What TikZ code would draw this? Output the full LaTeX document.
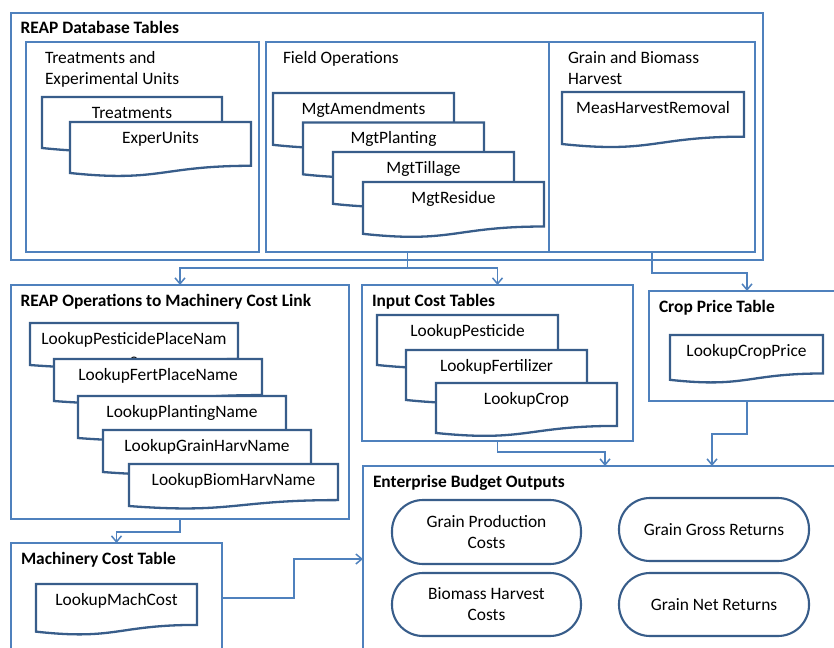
\documentclass[tikz,border=0pt]{standalone}
\usepackage{fontspec}
\setmainfont{Carlito}
\usetikzlibrary{arrows.meta,calc}
\definecolor{boxblue}{RGB}{79,129,189}
\definecolor{docblue}{RGB}{56,93,138}
\tikzset{
  every node/.style={font=\fontsize{17.4}{21}\selectfont, inner sep=0pt, outer sep=0pt},
  container/.style={draw=boxblue, line width=1.2pt, rectangle, anchor=north west},
  titletext/.style={anchor=base west, font=\fontsize{17.4}{21}\selectfont\bfseries},
  labeltext/.style={anchor=base west},
  docline/.style={draw=docblue, line width=2.3pt, fill=white, line join=miter},
  doctext/.style={anchor=base},
  link/.style={draw=boxblue, line width=1.5pt, -{Straight Barb[length=6pt,width=10pt]}},
  oval/.style={draw=docblue, line width=2.1pt, rounded corners=31pt, align=center, fill=white},
}
% #1 name, #2 left x, #3 top y, #4 width, #5 height, #6 text
\newcommand\mydoc[6]{%
  \path[docline] (#2,#3) -- ({#2+#4},#3) -- ({#2+#4},{#3+0.802*#5})
    .. controls ({#2+0.5*#4},{#3+0.802*#5}) and ({#2+0.5*#4},{#3+1.108*#5}) .. (#2,{#3+0.934*#5}) -- cycle;
  \node[doctext] (#1) at ({#2+0.5*#4},{#3+21.5}) {#6};}
\begin{document}
\begin{tikzpicture}[x=1pt,y=-1pt]
\useasboundingbox (0,0) rectangle (834,647);
\clip (0,0) rectangle (834,647);

% containers
\node[container, minimum width=752pt, minimum height=247pt] (db) at (11,13) {};
\node[container, minimum width=233pt, minimum height=210pt] (treat) at (26,42) {};
\node[container, minimum width=283pt, minimum height=210pt] (field) at (266,42) {};
\node[container, minimum width=206pt, minimum height=210pt] (grain) at (549,42) {};
\node[container, minimum width=338pt, minimum height=234pt] (ops) at (11,285) {};
\node[container, minimum width=271pt, minimum height=156pt] (input) at (362,285) {};
\node[container, minimum width=196pt, minimum height=110pt] (crop) at (649,291) {};
\node[container, minimum width=484pt, minimum height=186pt] (ent) at (363,466) {};
\node[container, minimum width=211pt, minimum height=110pt] (mach) at (11,543) {};

% titles and labels
\node[titletext] (dbtitle) at (20.5,34) {REAP Database Tables};
\node[labeltext] (treatla) at (45,64) {Treatments and};
\node[labeltext] (treatlb) at (45,85) {Experimental Units};
\node[labeltext] (fieldl) at (283,64) {Field Operations};
\node[labeltext] (grainla) at (568,64) {Grain and Biomass};
\node[labeltext] (grainlb) at (568,85) {Harvest};
\node[titletext] (opstitle) at (20.5,306) {REAP Operations to Machinery Cost Link};
\node[titletext] (inputtitle) at (372,306) {Input Cost Tables};
\node[titletext] (croptitle) at (659,312) {Crop Price Table};
\node[titletext] (enttitle) at (373,487) {Enterprise Budget Outputs};
\node[titletext] (machtitle) at (21,564) {Machinery Cost Table};

% documents
\mydoc{treatments}{42}{97}{180}{54.6}{Treatments}
\mydoc{experunits}{70}{122}{181}{54.6}{ExperUnits}

\mydoc{amend}{273}{93}{181}{55.5}{MgtAmendments}
\mydoc{planting}{303}{122.5}{181}{55.5}{MgtPlanting}
\mydoc{tillage}{333}{152}{181}{55.5}{MgtTillage}
\mydoc{residue}{363}{182}{181}{55.5}{MgtResidue}

\mydoc{meas}{562}{92}{182}{55.7}{MeasHarvestRemoval}

\mydoc{pestplace}{30}{323}{208}{45}{LookupPesticidePlaceNam}
\node[doctext] (pestplacee) at (134,365) {e};
\mydoc{fertplace}{54}{359}{208}{45}{LookupFertPlaceName}
\mydoc{plantname}{78}{396}{208}{45}{LookupPlantingName}
\mydoc{grainharv}{103}{430}{208}{45}{LookupGrainHarvName}
\mydoc{biomharv}{129}{464}{209}{45}{LookupBiomHarvName}

\mydoc{pest}{377}{315}{181}{53.5}{LookupPesticide}
\mydoc{fert}{406}{350}{181}{53.5}{LookupFertilizer}
\mydoc{cropdoc}{436}{383}{181}{53.5}{LookupCrop}

\mydoc{cropprice}{670}{335}{153}{48}{LookupCropPrice}
\mydoc{machcost}{36}{584}{161}{51}{LookupMachCost}

% outputs
\node[oval, minimum width=189pt, minimum height=64pt] (gpc) at (486.5,532) {Grain Production\\Costs};
\node[oval, minimum width=190pt, minimum height=63pt] (ggr) at (714,529.5) {Grain Gross Returns};
\node[oval, minimum width=189pt, minimum height=63pt] (bhc) at (486.5,604.5) {Biomass Harvest\\Costs};
\node[oval, minimum width=190pt, minimum height=63pt] (gnr) at (714,604.5) {Grain Net Returns};

% connectors
\coordinate (split) at ($(field.south)+(0,16)$);
\coordinate (entin) at ($(ent.north west)+(349,0)$);
\draw[link] (field.south) -- (split) -| (ops.north);
\draw[link] (split) -| (input.north);
\draw[link] (grain.south) -- ++(0,21) -| (crop.north);
\draw[link] (input.south) -- ++(0,11) -| (ent.north);
\draw[link] (crop.south) -- ++(0,33) -| (entin);
\draw[link] (ops.south) -- ++(0,13) -| (mach.north);
\draw[link] (mach.east) -- ++(72,0) |- (ent.west);
\end{tikzpicture}
\end{document}
